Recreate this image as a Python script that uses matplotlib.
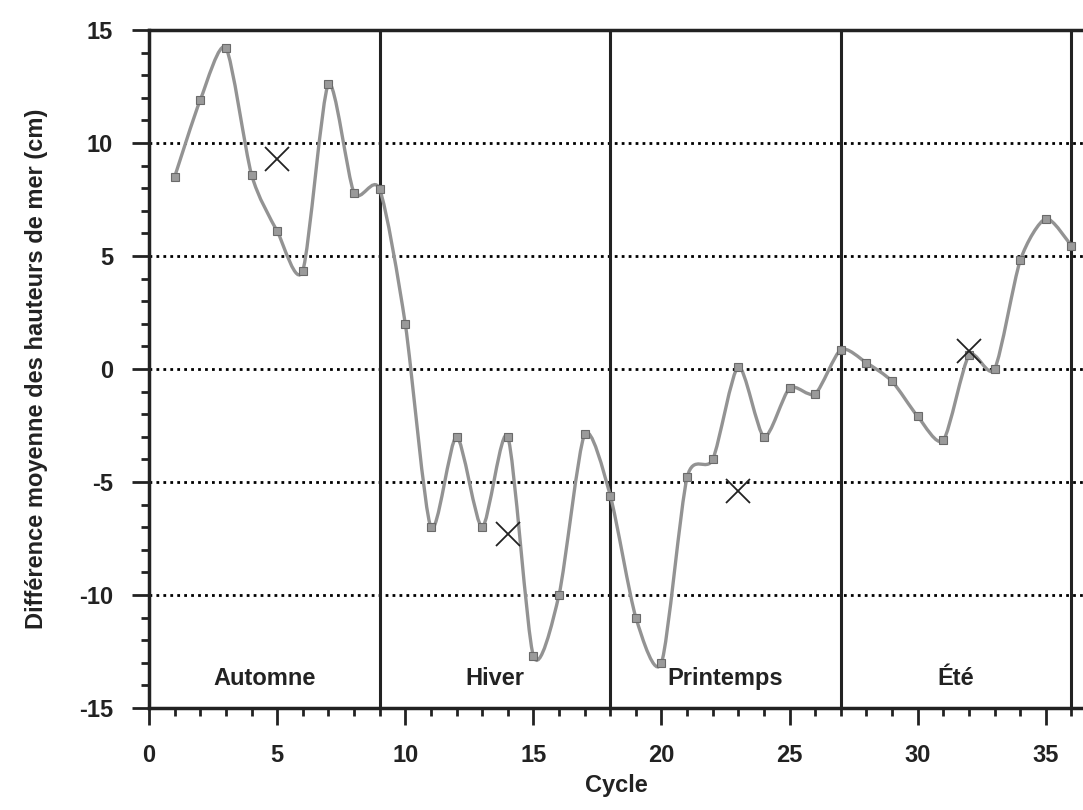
import numpy as np
import matplotlib
matplotlib.use('Agg')
import matplotlib.pyplot as plt
from matplotlib.path import Path
from matplotlib.patches import PathPatch
from matplotlib.ticker import MultipleLocator

plt.rcParams['font.family'] = ['Liberation Sans', 'DejaVu Sans']
plt.rcParams['axes.unicode_minus'] = False

# cycle number and mean sea-height difference (cm)
cycles = np.arange(1, 37)
diff_cm = [8.5, 11.9, 14.2, 8.6, 6.1, 4.35, 12.6, 7.8, 7.95,
           2.0, -7.0, -3.0, -7.0, -3.0, -12.7, -10.0, -2.9, -5.6,
           -11.0, -13.0, -4.8, -4.0, 0.1, -3.0, -0.85, -1.1, 0.85,
           0.27, -0.55, -2.1, -3.15, 0.6, 0.0, 4.8, 6.65, 5.45]
# single isolated estimates drawn as crosses
cross_x = [5, 14, 23, 32]
cross_y = [9.3, -7.3, -5.4, 0.8]

season_edges = [9, 18, 27, 36]
season_names = ['Automne', 'Hiver', 'Printemps', 'Été']
season_mid = [4.5, 13.5, 22.5, 31.5]

fig = plt.figure(figsize=(10.83, 8.10), dpi=100)
ax = fig.add_axes([0.1376, 0.126, 0.8624, 0.837])

# smooth curve through the points (Catmull-Rom as cubic Beziers)
pts = np.column_stack([cycles, diff_cm])
verts = [pts[0]]
codes = [Path.MOVETO]
for i in range(len(pts) - 1):
    p0 = pts[max(i - 1, 0)]
    p1 = pts[i]
    p2 = pts[i + 1]
    p3 = pts[min(i + 2, len(pts) - 1)]
    verts += [p1 + (p2 - p0) / 8, p2 - (p3 - p1) / 8, p2]
    codes += [Path.CURVE4] * 3
ax.add_patch(PathPatch(Path(verts, codes), facecolor='none',
                       edgecolor='#939393', lw=2.4, zorder=3))
ax.plot(cycles, diff_cm, ls='none', marker='s', ms=5.5,
        mfc='#9a9a9a', mec='#6a6a6a', mew=0.8, zorder=4)
ax.plot(cross_x, cross_y, ls='none', marker='x', ms=17,
        mew=1.3, color='#222222', zorder=5)

for y in [-10, -5, 0, 5, 10]:
    ax.axhline(y, color='black', lw=2, ls=(0, (1, 1.5)), zorder=1)
for x in season_edges:
    ax.axvline(x, color='#222222', lw=2.2, zorder=2)
for x, name in zip(season_mid, season_names):
    ax.text(x, -13.7, name, ha='center', va='center', fontsize=17,
            fontweight='bold', color='#222222')

ax.set_xlim(0, 36.45)
ax.set_ylim(-15, 15)
ax.xaxis.set_major_locator(MultipleLocator(5))
ax.xaxis.set_minor_locator(MultipleLocator(1))
ax.yaxis.set_major_locator(MultipleLocator(5))
ax.yaxis.set_minor_locator(MultipleLocator(1))
ax.tick_params(which='major', direction='out', length=12, width=2,
               labelsize=17, pad=14, colors='#222222')
ax.tick_params(which='minor', direction='out', length=6, width=2,
               colors='#222222')
for lab in ax.get_xticklabels() + ax.get_yticklabels():
    lab.set_fontweight('bold')
ax.spines['right'].set_visible(False)
for s in ['left', 'bottom', 'top']:
    ax.spines[s].set_linewidth(2.5)
    ax.spines[s].set_color('#222222')

ax.set_xlabel('Cycle', fontsize=17, fontweight='bold', labelpad=5,
              color='#222222')
ax.set_ylabel('Différence moyenne des hauteurs de mer (cm)', fontsize=17,
              fontweight='bold', labelpad=22, color='#222222')

fig.savefig('out.png', dpi=100)
